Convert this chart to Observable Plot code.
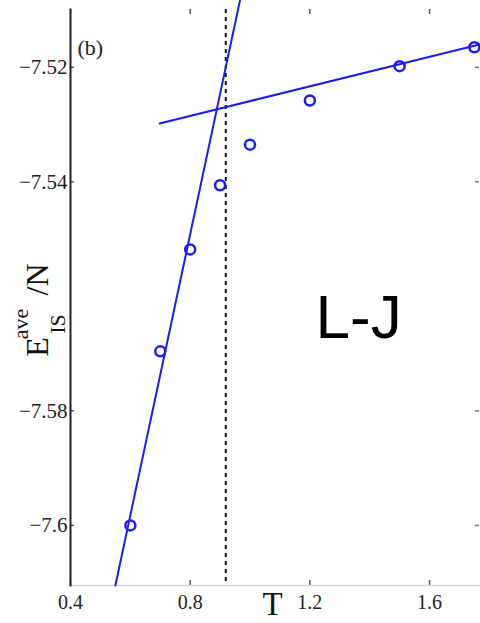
<!DOCTYPE html>
<html>
<head>
<meta charset="utf-8">
<script src="https://cdn.jsdelivr.net/npm/d3@7"></script>
<script src="https://cdn.jsdelivr.net/npm/@observablehq/plot@0.6"></script>
<style>
  html, body { margin: 0; padding: 0; background: #fff; }
  #chart { width: 480px; height: 623px; overflow: hidden; }
</style>
</head>
<body>
<div id="chart"></div>
<script>
// Average inherent-structure energy per particle vs temperature (L-J system)
const T = [0.6, 0.7, 0.8, 0.9, 1.0, 1.2, 1.5, 1.75];
const E = [-7.6, -7.5696, -7.5518, -7.5406, -7.5335, -7.5258, -7.5198, -7.5165];

// Linear fits for the low-T and high-T branches (end points of each segment)
const lowFitT = [0.55, 0.9665];
const lowFitE = [-7.6105, -7.5083];
const highFitT = [0.698, 1.767];
const highFitE = [-7.5298, -7.516];

// Crossover temperature (dashed marker)
const crossT = [0.919];

// Axis ticks
const xTicks = [0.4, 0.8, 1.2, 1.6];
const xTickLabels = ["0.4", "0.8", "1.2", "1.6"];
const yTicks = [-7.6, -7.58, -7.54, -7.52];
const yTickLabels = ["\u22127.6", "\u22127.58", "\u22127.54", "\u22127.52"];

const blue = "#1c1cf0";
const serif = "'Liberation Serif', 'Times New Roman', serif";

const points = T.map((t, i) => ({T: t, E: E[i]}));
const lowFit = lowFitT.map((t, i) => ({T: t, E: lowFitE[i]}));
const highFit = highFitT.map((t, i) => ({T: t, E: highFitE[i]}));

const plot = Plot.plot({
  width: 480,
  height: 623,
  marginLeft: 70,
  marginRight: 1,
  marginTop: 9,
  marginBottom: 38,
  style: {background: "#fff", color: "#1a1a1a", fontFamily: serif},
  x: {domain: [0.4, 1.767], axis: null},
  y: {domain: [-7.6105, -7.5099], axis: null},
  marks: [
    // box edges
    Plot.frame({anchor: "bottom", stroke: "#d8d8d8", strokeWidth: 1.5}),
    // inward ticks
    Plot.tickX(xTicks, {x: d => d, insetTop: 571, stroke: "#555", strokeWidth: 1.5}),
    Plot.tickX(xTicks, {x: d => d, insetBottom: 571, stroke: "#555", strokeWidth: 1.5}),
    Plot.tickY(yTicks, {y: d => d, insetRight: 405, stroke: "#555", strokeWidth: 1.5}),
    Plot.tickY(yTicks, {y: d => d, insetLeft: 405, stroke: "#777", strokeWidth: 1.5}),
    Plot.frame({anchor: "left", stroke: "#222", strokeWidth: 2}),
    // tick labels
    Plot.axisX(xTicks, {
      anchor: "bottom", label: null, tickSize: 0, tickPadding: 9,
      tickFormat: d => xTickLabels[xTicks.indexOf(d)],
      fontSize: 20, fontFamily: serif, fill: "#222"
    }),
    Plot.axisY(yTicks, {
      anchor: "left", label: null, tickSize: 0, tickPadding: 3,
      tickFormat: d => yTickLabels[yTicks.indexOf(d)],
      fontSize: 21, fontFamily: serif, fill: "#222"
    }),
    // crossover marker
    Plot.ruleX(crossT, {x: d => d, stroke: "#111", strokeWidth: 2, strokeDasharray: "4,4"}),
    // fits
    Plot.line(lowFit, {x: "T", y: "E", stroke: blue, strokeWidth: 2}),
    Plot.line(highFit, {x: "T", y: "E", stroke: blue, strokeWidth: 2}),
    // simulation data
    Plot.dot(points, {x: "T", y: "E", r: 5, stroke: blue, strokeWidth: 2.5, fill: "none"}),
    // annotations
    Plot.text(["(b)"], {frameAnchor: "top-left", dx: 7, dy: 45, textAnchor: "start", lineAnchor: "bottom",
      fontSize: 22, fontFamily: serif, fill: "#222"}),
    Plot.text(["L-J"], {frameAnchor: "top-left", dx: 245, dy: 328, textAnchor: "start", lineAnchor: "bottom",
      fontSize: 62, fontFamily: "'Liberation Sans', Arial, sans-serif", fill: "#000"}),
    Plot.text(["T"], {frameAnchor: "bottom-left", dx: 202, dy: 29, textAnchor: "middle", lineAnchor: "bottom",
      fontSize: 33, fontFamily: serif, fill: "#111"})
  ]
});

document.getElementById("chart").appendChild(plot);

// y-axis title: E with stacked superscript "ave" and subscript "IS", then "/ N"
const ylab = d3.select(plot).append("text")
  .attr("transform", "translate(48,347) rotate(-90)")
  .attr("font-family", serif)
  .attr("fill", "#111");
ylab.append("tspan").attr("x", 0).attr("y", 0).attr("font-size", 32).text("E");
ylab.append("tspan").attr("x", 23).attr("y", -20).attr("font-size", 22).text("ave");
ylab.append("tspan").attr("x", 23).attr("y", 17).attr("font-size", 22).text("IS");
ylab.append("tspan").attr("x", 56).attr("y", 0).attr("font-size", 32).text("/");
ylab.append("tspan").attr("x", 72).attr("y", 0).attr("font-size", 32).text("N");
</script>
</body>
</html>
